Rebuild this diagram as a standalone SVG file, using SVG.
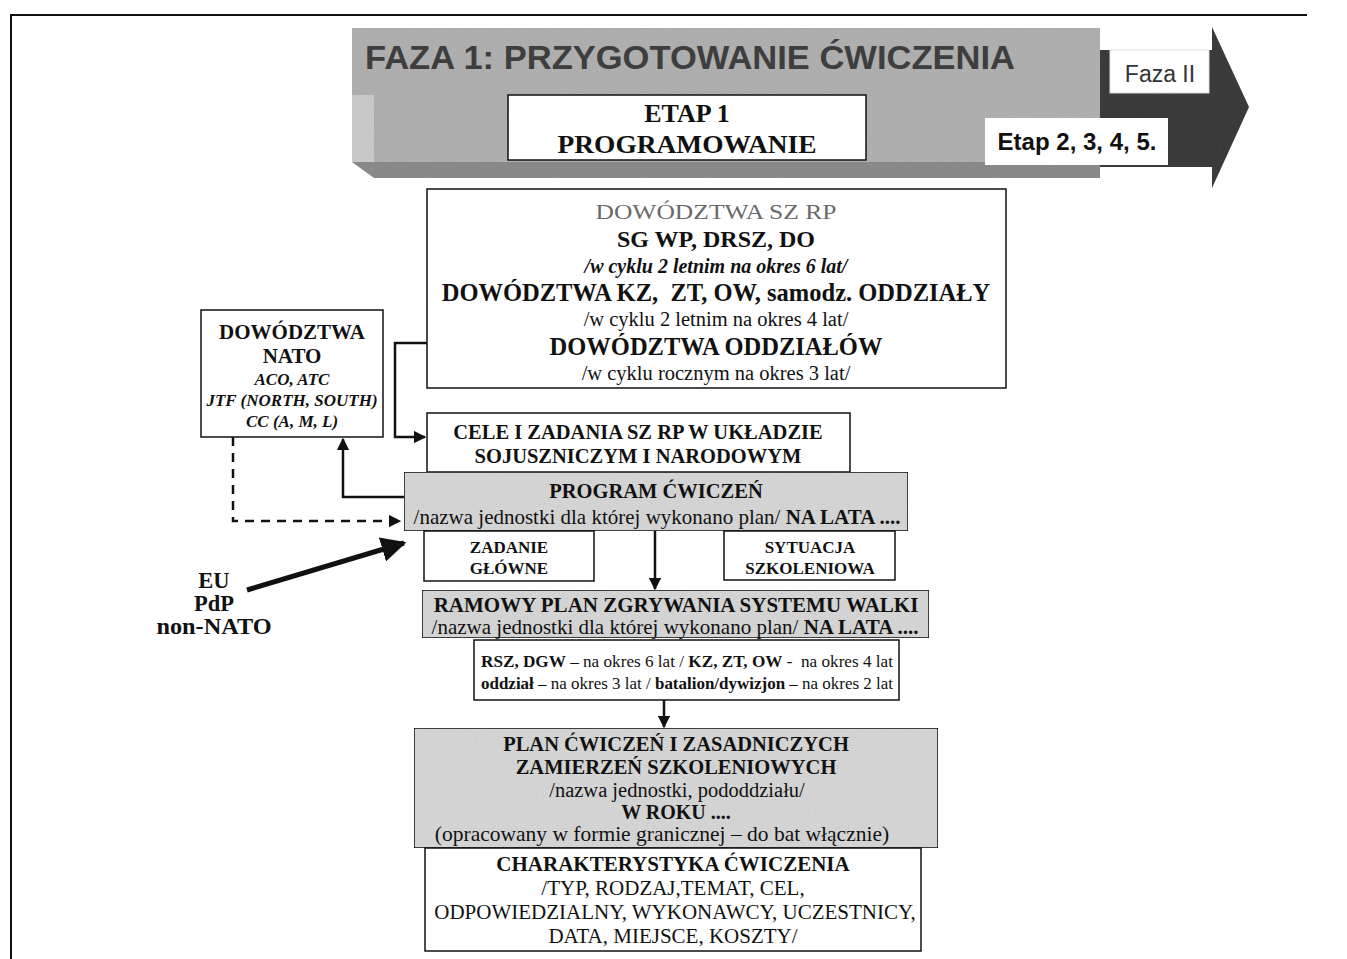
<svg xmlns="http://www.w3.org/2000/svg" width="1347" height="959" viewBox="0 0 1347 959">
  <defs>
    <style>
      .box { fill: #ffffff; stroke: #111; stroke-width: 1.5; }
      .shade { fill: #dadada; stroke: #111; stroke-width: 1.5; }
      .t { font-family: "Liberation Serif", "Times New Roman", serif; fill: #111; text-anchor: middle; white-space: pre; }
      .b { font-weight: bold; }
      .i { font-style: italic; }
      .a { font-family: "Liberation Sans", Arial, sans-serif; }
      .line { fill: none; stroke: #111; stroke-width: 2.5; }
      .dash { fill: none; stroke: #111; stroke-width: 2.5; stroke-dasharray: 9 7; }
    </style>
    <marker id="arr" viewBox="0 0 10 10" refX="9" refY="5" markerWidth="5" markerHeight="5" orient="auto" markerUnits="strokeWidth">
      <path d="M0,0 L10,5 L0,10 z" fill="#111"/>
    </marker>
    <filter id="grain" x="0" y="0" width="100%" height="100%">
      <feTurbulence type="fractalNoise" baseFrequency="0.9" numOctaves="2" seed="3" result="n"/>
      <feColorMatrix in="n" type="matrix" values="0 0 0 0 0  0 0 0 0 0  0 0 0 0 0  0 0 0 0.14 0" result="dots"/>
      <feComposite in="dots" in2="SourceGraphic" operator="in" result="d2"/>
      <feMerge><feMergeNode in="SourceGraphic"/><feMergeNode in="d2"/></feMerge>
    </filter>
  </defs>

  <!-- page frame -->
  <path d="M11,959 V15 H1307" fill="none" stroke="#111" stroke-width="2"/>

  <!-- phase banner -->
  <g id="banner">
    <rect x="352" y="28" width="748" height="134" fill="#b4b4b4" filter="url(#grain)"/>
    <polygon points="352,95 374,95 374,162 352,162" fill="#cfcfcf" filter="url(#grain)"/>
    <polygon points="352,162 1100,162 1100,178 374,178" fill="#8e8e8e" filter="url(#grain)"/>
    <polygon points="1100,50 1212,50 1212,27 1249,107 1212,188 1212,167 1100,167" fill="#3e3e3e" filter="url(#grain)"/>
    <text x="365" y="69" class="a b" font-size="33" fill="#3e3e3e" textLength="650" lengthAdjust="spacingAndGlyphs">FAZA 1: PRZYGOTOWANIE ĆWICZENIA</text>
  </g>

  <g id="etap1">
    <rect x="508" y="95" width="358" height="65" class="box"/>
    <text x="687" y="122" class="t b" font-size="26">ETAP 1</text>
    <text x="687" y="153" class="t b" font-size="26" textLength="259" lengthAdjust="spacingAndGlyphs">PROGRAMOWANIE</text>
  </g>

  <g id="faza2">
    <rect x="1110" y="50" width="99" height="43" fill="#fff" stroke="#ddd" stroke-width="1"/>
    <text x="1160" y="82" class="a" font-size="23" fill="#333" text-anchor="middle">Faza II</text>
  </g>

  <g id="etapy">
    <rect x="985" y="118" width="183" height="47" fill="#fff"/>
    <text x="1077" y="150" class="a b" font-size="23" fill="#111" text-anchor="middle" textLength="159" lengthAdjust="spacingAndGlyphs">Etap 2, 3, 4, 5.</text>
  </g>

  <!-- commands -->
  <g id="dowodztwa-sz">
    <rect x="427" y="189" width="579" height="199" class="box"/>
    <text x="716" y="219" class="t" font-size="22" style="fill:#6a6a6a" textLength="241" lengthAdjust="spacingAndGlyphs">DOWÓDZTWA SZ RP</text>
    <text x="716" y="247" class="t b" font-size="24">SG WP, DRSZ, DO</text>
    <text x="716" y="273" class="t b i" font-size="20">/w cyklu 2 letnim na okres 6 lat/</text>
    <text x="716" y="301" class="t b" font-size="24.5">DOWÓDZTWA KZ,  ZT, OW, samodz. ODDZIAŁY</text>
    <text x="716" y="326" class="t" font-size="20.5">/w cyklu 2 letnim na okres 4 lat/</text>
    <text x="716" y="355" class="t b" font-size="24.5">DOWÓDZTWA ODDZIAŁÓW</text>
    <text x="716" y="380" class="t" font-size="20.5">/w cyklu rocznym na okres 3 lat/</text>
  </g>

  <g id="dowodztwa-nato">
    <rect x="201" y="310" width="182" height="127" class="box"/>
    <text x="292" y="339" class="t b" font-size="21">DOWÓDZTWA</text>
    <text x="292" y="363" class="t b" font-size="21">NATO</text>
    <text x="292" y="385" class="t b i" font-size="17">ACO, ATC</text>
    <text x="292" y="406" class="t b i" font-size="17">JTF (NORTH, SOUTH)</text>
    <text x="292" y="427" class="t b i" font-size="17">CC (A, M, L)</text>
  </g>

  <g id="cele">
    <rect x="427" y="413" width="423" height="59" class="box"/>
    <text x="638" y="439" class="t b" font-size="20.5">CELE I ZADANIA SZ RP W UKŁADZIE</text>
    <text x="638" y="463" class="t b" font-size="20.5">SOJUSZNICZYM I NARODOWYM</text>
  </g>

  <g id="program">
    <rect x="404" y="472" width="504" height="59" class="shade" filter="url(#grain)"/>
    <text x="656" y="498" class="t b" font-size="20.5">PROGRAM ĆWICZEŃ</text>
    <text x="657" y="524" class="t" font-size="21">/nazwa jednostki dla której wykonano plan/ <tspan class="b">NA LATA ....</tspan></text>
  </g>

  <g id="zadanie">
    <rect x="424" y="531" width="170" height="50" class="box"/>
    <text x="509" y="553" class="t b" font-size="17">ZADANIE</text>
    <text x="509" y="574" class="t b" font-size="17">GŁÓWNE</text>
  </g>

  <g id="sytuacja">
    <rect x="724" y="531" width="171" height="49" class="box"/>
    <text x="810" y="553" class="t b" font-size="17">SYTUACJA</text>
    <text x="810" y="574" class="t b" font-size="17">SZKOLENIOWA</text>
  </g>

  <g id="partnerzy">
    <text x="214" y="588" class="t b" font-size="22.5">EU</text>
    <text x="214" y="611" class="t b" font-size="22.5">PdP</text>
    <text x="214" y="634" class="t b" font-size="22.5" textLength="115" lengthAdjust="spacingAndGlyphs">non-NATO</text>
  </g>

  <g id="ramowy">
    <rect x="422" y="590" width="507" height="48" class="shade" filter="url(#grain)"/>
    <text x="676" y="612" class="t b" font-size="21">RAMOWY PLAN ZGRYWANIA SYSTEMU WALKI</text>
    <text x="675" y="634" class="t" font-size="21">/nazwa jednostki dla której wykonano plan/ <tspan class="b">NA LATA ....</tspan></text>
  </g>

  <g id="okresy">
    <rect x="474" y="640" width="425" height="60" class="box"/>
    <text x="687" y="667" class="t" font-size="17" textLength="412" lengthAdjust="spacingAndGlyphs"><tspan class="b">RSZ, DGW</tspan> – na okres 6 lat / <tspan class="b">KZ, ZT, OW</tspan> -  na okres 4 lat</text>
    <text x="687" y="689" class="t" font-size="17" textLength="412" lengthAdjust="spacingAndGlyphs"><tspan class="b">oddział</tspan> – na okres 3 lat / <tspan class="b">batalion/dywizjon</tspan> – na okres 2 lat</text>
  </g>

  <g id="plan">
    <rect x="414" y="728" width="524" height="120" class="shade" filter="url(#grain)"/>
    <text x="676" y="751" class="t b" font-size="20.5">PLAN ĆWICZEŃ I ZASADNICZYCH</text>
    <text x="676" y="774" class="t b" font-size="20.5">ZAMIERZEŃ SZKOLENIOWYCH</text>
    <text x="677" y="797" class="t" font-size="20.5">/nazwa jednostki, pododdziału/</text>
    <text x="676" y="819" class="t b" font-size="20">W ROKU ....</text>
    <text x="662" y="841" class="t" font-size="21.5">(opracowany w formie granicznej – do bat włącznie)</text>
  </g>

  <g id="charakterystyka">
    <rect x="425" y="848" width="496" height="103" class="box"/>
    <text x="673" y="871" class="t b" font-size="21">CHARAKTERYSTYKA ĆWICZENIA</text>
    <text x="673" y="895" class="t" font-size="21">/TYP, RODZAJ,TEMAT, CEL,</text>
    <text x="675" y="919" class="t" font-size="21">ODPOWIEDZIALNY, WYKONAWCY, UCZESTNICY,</text>
    <text x="673" y="943" class="t" font-size="21">DATA, MIEJSCE, KOSZTY/</text>
  </g>

  <!-- connectors -->
  <g id="connectors">
    <path d="M427,343 H395 V437 H425" class="line" marker-end="url(#arr)"/>
    <path d="M404,497 H343 V439" class="line" marker-end="url(#arr)"/>
    <path d="M233,437 V521 H400" class="dash" marker-end="url(#arr)"/>
    <path d="M247,590 L404,543" fill="none" stroke="#111" stroke-width="5" marker-end="url(#arr)"/>
    <path d="M655,531 V589" class="line" marker-end="url(#arr)"/>
    <path d="M664,700 V727" class="line" marker-end="url(#arr)"/>
  </g>
</svg>
